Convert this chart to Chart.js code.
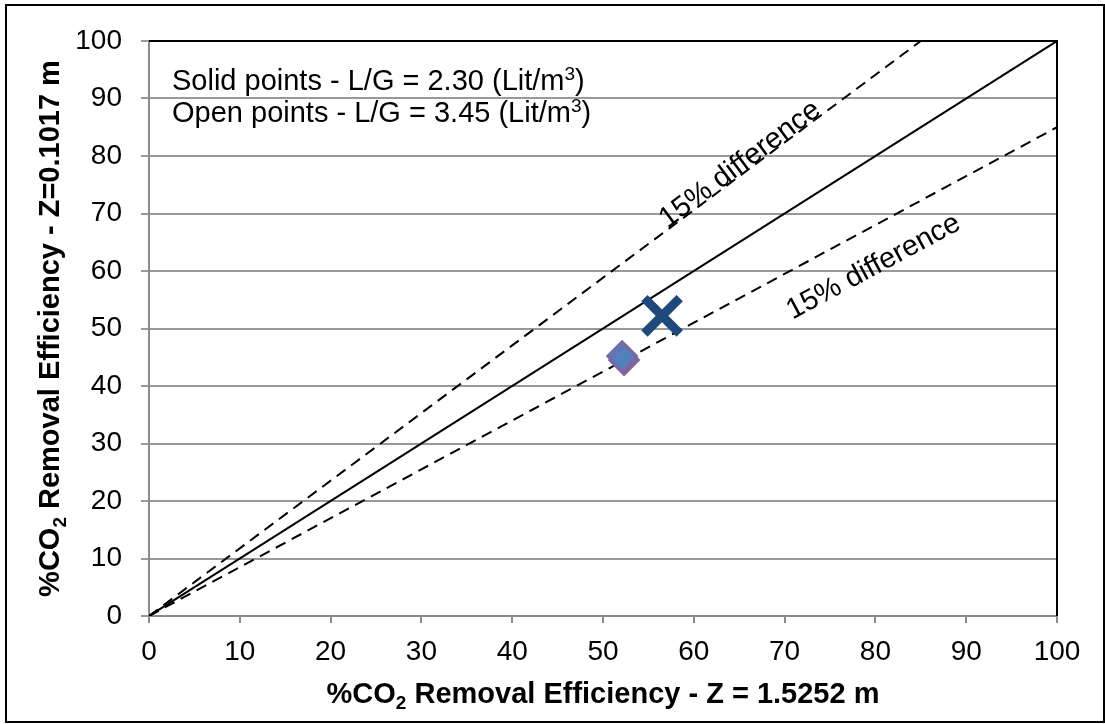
<!DOCTYPE html>
<html>
<head>
<meta charset="utf-8">
<script src="https://cdn.jsdelivr.net/npm/chart.js@4/dist/chart.umd.min.js"></script>
<style>
  html, body { margin: 0; padding: 0; background: #fff; }
</style>
</head>
<body>
<canvas id="graficoEficiencia" width="1105" height="724"></canvas>
<script>
// Marcas dos eixos
const xTicks = [0, 10, 20, 30, 40, 50, 60, 70, 80, 90, 100];
const yTicks = [0, 10, 20, 30, 40, 50, 60, 70, 80, 90, 100];

// Pontos medidos (x = Z 1.5252 m, y = Z 0.1017 m)
const solidX = [56.5];
const solidY = [52.2];
const openX = [52.1];
const openY = [45.2];

// Linha de igualdade e limites de 15%
const igualX = [0, 100];
const igualY = [0, 100];
const superiorX = [0, 85];
const superiorY = [0, 100];
const inferiorX = [0, 100];
const inferiorY = [0, 85];

// Textos sobre as linhas de 15%
const rotuloTexto = ['15% difference', '15% difference'];
const rotuloX = [65.1, 79.8];
const rotuloY = [78.5, 60.7];

// Textos da legenda
const legendaTexto = ['Solid points - L/G = 2.30 (Lit/m', 'Open points - L/G = 3.45 (Lit/m'];

const FONTE = '"Liberation Sans", Arial, sans-serif';
const TAM = 28;
const TAM_TEXTO = 29;
const TAM_TITULO = 29;

Chart.defaults.font.family = FONTE;
Chart.defaults.color = '#000';

const pontos = (xs, ys) => xs.map((x, i) => ({ x: x, y: ys[i] }));

// Escreve texto com pedaços em índice (sub/sobrescrito)
const escreveMisto = (ctx, pedacos, x, y, tam, peso, alinhar) => {
    const medidas = pedacos.map(p => {
        const t = p.k === 'n' ? tam : Math.round(tam * 0.66);
        ctx.font = `${peso} ${t}px ${FONTE}`;
        return ctx.measureText(p.t).width;
    });
    const total = medidas.reduce((a, b) => a + b, 0);
    let cx = alinhar === 'left' ? x : x - total / 2;
    pedacos.forEach((p, i) => {
        const t = p.k === 'n' ? tam : Math.round(tam * 0.66);
        ctx.font = `${peso} ${t}px ${FONTE}`;
        let dy = 0;
        if (p.k === 'sub') dy = tam * 0.22;
        if (p.k === 'sup') dy = -tam * 0.36;
        ctx.fillText(p.t, cx, y + dy);
        cx += medidas[i];
    });
};

const desenhoExtra = {
    id: 'desenhoExtra',
    beforeDatasetsDraw(chart) {
        const { ctx, chartArea: a } = chart;
        // borda superior e direita da área do gráfico
        ctx.save();
        ctx.strokeStyle = '#000';
        ctx.lineWidth = 2;
        ctx.beginPath();
        ctx.moveTo(a.left, a.top);
        ctx.lineTo(a.right, a.top);
        ctx.lineTo(a.right, a.bottom);
        ctx.stroke();
        ctx.restore();
    },
    beforeDatasetDraw(chart, args) {
        // sombra roxa do losango
        if (args.index === 1) {
            const ctx = chart.ctx;
            ctx.save();
            ctx.shadowColor = '#8064A2';
            ctx.shadowOffsetX = 2;
            ctx.shadowOffsetY = 4;
            ctx.shadowBlur = 0;
        }
    },
    afterDatasetDraw(chart, args) {
        if (args.index === 1) chart.ctx.restore();
    },
    afterDraw(chart) {
        const { ctx, chartArea: a, scales } = chart;
        const sx = scales.x, sy = scales.y;
        ctx.save();

        // moldura externa
        ctx.strokeStyle = '#000';
        ctx.lineWidth = 2;
        ctx.strokeRect(6, 5, 1098, 717);

        ctx.fillStyle = '#000';
        ctx.textBaseline = 'alphabetic';
        ctx.textAlign = 'left';

        // legenda em texto
        legendaTexto.forEach((txt, i) => {
            escreveMisto(ctx, [
                { t: txt, k: 'n' }, { t: '3', k: 'sup' }, { t: ')', k: 'n' }
            ], a.left + 23, 90 + i * 32, TAM_TEXTO, 'normal', 'left');
        });

        // título do eixo x
        escreveMisto(ctx, [
            { t: '%CO', k: 'n' }, { t: '2', k: 'sub' },
            { t: ' Removal Efficiency - Z = 1.5252 m', k: 'n' }
        ], (a.left + a.right) / 2, 703, TAM_TITULO, 'bold', 'center');

        // título do eixo y
        ctx.save();
        ctx.translate(49, (a.top + a.bottom) / 2);
        ctx.rotate(-Math.PI / 2);
        escreveMisto(ctx, [
            { t: '%CO', k: 'n' }, { t: '2', k: 'sub' },
            { t: ' Removal Efficiency - Z=0.1017 m', k: 'n' }
        ], 0, TAM_TITULO * 0.36, TAM_TITULO, 'bold', 'center');
        ctx.restore();

        // rótulos "15% difference" alinhados com as linhas
        const linhas = [[superiorX, superiorY], [inferiorX, inferiorY]];
        rotuloTexto.forEach((txt, i) => {
            const [lx, ly] = linhas[i];
            const ang = Math.atan2(
                sy.getPixelForValue(ly[1]) - sy.getPixelForValue(ly[0]),
                sx.getPixelForValue(lx[1]) - sx.getPixelForValue(lx[0])
            );
            ctx.save();
            ctx.translate(sx.getPixelForValue(rotuloX[i]), sy.getPixelForValue(rotuloY[i]));
            ctx.rotate(ang);
            ctx.font = `${TAM_TEXTO}px ${FONTE}`;
            ctx.textAlign = 'center';
            ctx.textBaseline = 'middle';
            ctx.fillText(txt, 0, 0);
            ctx.restore();
        });

        ctx.restore();
    }
};

new Chart(document.getElementById('graficoEficiencia'), {
    type: 'scatter',
    data: {
        datasets: [
            {
                label: 'Solid points',
                data: pontos(solidX, solidY),
                pointStyle: 'crossRot',
                pointRadius: 25,
                pointBorderWidth: 9,
                borderColor: '#1F497D',
                backgroundColor: '#1F497D'
            },
            {
                label: 'Open points',
                data: pontos(openX, openY),
                pointStyle: 'rectRot',
                pointRadius: 15,
                pointBorderWidth: 2,
                borderColor: '#8064A2',
                backgroundColor: '#4F81BD'
            },
            {
                label: 'y = x',
                data: pontos(igualX, igualY),
                showLine: true,
                borderColor: '#000',
                borderWidth: 2,
                pointRadius: 0
            },
            {
                label: '+15%',
                data: pontos(superiorX, superiorY),
                showLine: true,
                borderColor: '#000',
                borderWidth: 2,
                borderDash: [11, 7],
                pointRadius: 0
            },
            {
                label: '-15%',
                data: pontos(inferiorX, inferiorY),
                showLine: true,
                borderColor: '#000',
                borderWidth: 2,
                borderDash: [11, 7],
                pointRadius: 0
            }
        ]
    },
    options: {
        responsive: false,
        animation: false,
        devicePixelRatio: 1,
        layout: { padding: { top: 41, right: 48, bottom: 58, left: 0 } },
        plugins: {
            legend: { display: false },
            tooltip: { enabled: false }
        },
        scales: {
            x: {
                type: 'linear',
                min: 0,
                max: 100,
                afterBuildTicks: s => { s.ticks = xTicks.map(v => ({ value: v })); },
                afterFit: s => { s.height = 50; },
                grid: { drawOnChartArea: false, drawTicks: true, tickLength: 7, color: '#8c8c8c', lineWidth: 2 },
                border: { display: true, color: '#8c8c8c', width: 2 },
                ticks: { font: { size: TAM }, padding: 12, maxRotation: 0 }
            },
            y: {
                type: 'linear',
                min: 0,
                max: 100,
                afterBuildTicks: s => { s.ticks = yTicks.map(v => ({ value: v })); },
                afterFit: s => { s.width = 149; },
                grid: { drawOnChartArea: true, drawTicks: true, tickLength: 8, color: '#999999', lineWidth: 2 },
                border: { display: true, color: '#8c8c8c', width: 2 },
                ticks: { font: { size: TAM }, padding: 19 }
            }
        }
    },
    plugins: [desenhoExtra]
});
</script>
</body>
</html>
